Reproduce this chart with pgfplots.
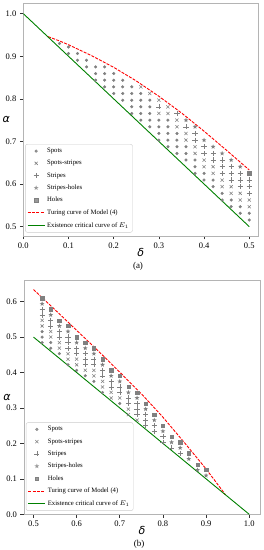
\documentclass[border=0pt]{standalone}
\usepackage{fontspec}
\setmainfont{Liberation Serif}
\newfontfamily\djv{DejaVu Sans}
\usepackage{pgfplots}
\pgfplotsset{compat=1.18}
\definecolor{axgray}{RGB}{180,180,180}
\definecolor{leggray}{RGB}{204,204,204}
\definecolor{mgray}{RGB}{128,128,128}
\definecolor{mpgreen}{RGB}{0,128,0}
\pgfdeclareplotmark{fstar}{%
  \pgfpathmoveto{\pgfpointpolar{90}{\pgfplotmarksize}}%
  \pgfpathlineto{\pgfpointpolar{126}{0.42\pgfplotmarksize}}%
  \pgfpathlineto{\pgfpointpolar{162}{\pgfplotmarksize}}%
  \pgfpathlineto{\pgfpointpolar{198}{0.42\pgfplotmarksize}}%
  \pgfpathlineto{\pgfpointpolar{234}{\pgfplotmarksize}}%
  \pgfpathlineto{\pgfpointpolar{270}{0.42\pgfplotmarksize}}%
  \pgfpathlineto{\pgfpointpolar{306}{\pgfplotmarksize}}%
  \pgfpathlineto{\pgfpointpolar{342}{0.42\pgfplotmarksize}}%
  \pgfpathlineto{\pgfpointpolar{18}{\pgfplotmarksize}}%
  \pgfpathlineto{\pgfpointpolar{54}{0.42\pgfplotmarksize}}%
  \pgfpathclose\pgfusepathqfill}
\pgfplotsset{
  mystyle/.style={
    scale only axis,
    axis line style={draw=axgray, line width=0.8pt},
    tick style={draw=black!80, line width=0.6pt},
    tick align=outside,
    major tick length=3.5pt,
    xtick pos=bottom, ytick pos=left,
    ticklabel style={font=\fontsize{8.5}{9}\selectfont},
    /pgf/number format/fixed,
    /pgf/number format/fixed zerofill,
    /pgf/number format/precision=1,
    /pgf/number format/assume math mode=true,
    xlabel={\djv\itshape δ},
    ylabel={\djv\itshape α},
    xlabel style={font=\fontsize{11}{12}\selectfont, at={(axis description cs:0.5,0)}, anchor=center, yshift=-16.5pt},
    ylabel style={font=\fontsize{11}{12}\selectfont, rotate=-90, at={(axis description cs:0,0.5)}, anchor=center, xshift=-17pt},
    legend style={font=\fontsize{6.7}{7.7}\selectfont, draw=leggray, rounded corners=2pt, fill=white, fill opacity=0.8, text opacity=1, row sep=2.3pt, inner sep=1.8pt, cells={anchor=west}},
    legend cell align=left,
  },
  spots/.style={only marks, mark=*, mark size=1.35pt, mark options={draw=mgray, fill=mgray}},
  spst/.style={only marks, mark=x, mark size=2.2pt, mark options={draw=mgray, line width=0.55pt}},
  strp/.style={only marks, mark=+, mark size=2.6pt, mark options={draw=mgray, line width=0.55pt}},
  sthl/.style={only marks, mark=fstar, mark size=2.5pt, mark options={fill=mgray}},
  holes/.style={only marks, mark=square*, mark size=1.7pt, mark options={draw=mgray, fill=mgray}},
  turing/.style={red, dashed, dash pattern=on 3pt off 1.3pt, line width=0.9pt, mark=none},
  exist/.style={mpgreen, line width=0.9pt, mark=none},
}
\begin{document}
\begin{tikzpicture}
\useasboundingbox (0,0) rectangle (264pt,550pt);
% ---------------- panel (a)
\begin{axis}[mystyle, at={(23.3pt,314pt)}, anchor=south west,
  width=235pt, height=233pt,
  xmin=0, xmax=0.52, ymin=0.478, ymax=1.025,
  xtick={0,0.1,0.2,0.3,0.4,0.5}, ytick={0.5,0.6,0.7,0.8,0.9,1.0},
  legend style={at={(0.008,0.015)}, anchor=south west}]
\addplot[spots] coordinates {
(0.08,.93)
(0.10,.90625)(0.10,.921875)
(0.12,.890625)(0.12,.90625)
(0.14,.875)(0.14,.890625)
(0.16,.84375)(0.16,.859375)(0.16,.875)
(0.18,.828125)(0.18,.84375)(0.18,.859375)(0.18,.875)
(0.20,.8125)(0.20,.828125)(0.20,.84375)(0.20,.859375)
(0.22,.796875)(0.22,.8125)(0.22,.828125)(0.22,.84375)
(0.24,.765625)(0.24,.78125)(0.24,.796875)(0.24,.8125)(0.24,.828125)
(0.26,.75)(0.26,.765625)(0.26,.78125)(0.26,.796875)(0.26,.8125)
(0.28,.734375)(0.28,.75)(0.28,.765625)(0.28,.78125)(0.28,.796875)
(0.30,.703125)(0.30,.71875)(0.30,.734375)(0.30,.75)
(0.32,.6875)(0.32,.703125)(0.32,.71875)(0.32,.734375)(0.32,.75)
(0.34,.671875)(0.34,.6875)(0.34,.703125)(0.34,.71875)
(0.36,.65625)(0.36,.671875)(0.36,.6875)
(0.38,.625)(0.38,.640625)(0.38,.65625)
(0.40,.609375)(0.40,.625)
(0.42,.59375)(0.42,.609375)
(0.44,.5625)(0.44,.578125)
(0.46,.546875)(0.46,.5625)
(0.48,.53125)(0.48,.546875)
(0.50,.515625)(0.50,.53125)
};
\addlegendentry{Spots}
\addplot[spst] coordinates {
(0.26,.828125)(0.28,.8125)(0.30,.796875)(0.30,.765625)(0.32,.78125)(0.32,.765625)
(0.34,.75)(0.34,.734375)(0.36,.71875)(0.36,.703125)(0.38,.6875)(0.38,.671875)
(0.40,.65625)(0.40,.640625)(0.42,.640625)(0.42,.625)(0.44,.609375)(0.44,.59375)
(0.46,.59375)(0.46,.578125)(0.48,.578125)(0.48,.5625)(0.50,.5625)(0.50,.546875)
};
\addlegendentry{Spots-stripes}
\addplot[strp] coordinates {
(0.30,.78125)(0.34,.765625)(0.36,.734375)(0.38,.71875)(0.38,.703125)
(0.40,.6875)(0.40,.671875)(0.42,.671875)(0.42,.65625)
(0.44,.65625)(0.44,.640625)(0.44,.625)(0.46,.640625)(0.46,.625)(0.46,.609375)
(0.48,.625)(0.48,.609375)(0.48,.59375)(0.50,.609375)(0.50,.59375)(0.50,.578125)
};
\addlegendentry{Stripes}
\addplot[sthl] coordinates {
(0.36,.75)(0.38,.734375)(0.40,.703125)(0.42,.6875)(0.44,.671875)(0.46,.65625)(0.48,.640625)
};
\addlegendentry{Stripes-holes}
\addplot[holes] coordinates {(0.50,.625)};
\addlegendentry{Holes}
\addplot[turing] coordinates {
(0.055,0.946)(0.08,0.936)(0.1,0.927)(0.15,0.902)(0.2,0.874)(0.25,0.842)
(0.3,0.806)(0.35,0.767)(0.4,0.724)(0.45,0.679)(0.5,0.633)
};
\addlegendentry{Turing curve of Model (4)}
\addplot[exist] coordinates {(0,1)(0.5,0.5)};
\addlegendentry{Existence critical curve of $E_1$}
\end{axis}
\node[font=\fontsize{9}{10}\selectfont] at (138pt,284pt) {(a)};
% ---------------- panel (b)
\begin{axis}[mystyle, at={(24pt,35.7pt)}, anchor=south west,
  width=236pt, height=234.3pt,
  xmin=0.478, xmax=1.025, ymin=0, ymax=0.661,
  xtick={0.5,0.6,0.7,0.8,0.9,1.0}, ytick={0,0.1,0.2,0.3,0.4,0.5,0.6},
  legend style={at={(0.008,0.015)}, anchor=south west}]
\addplot[spots] coordinates {
(0.52,.515625)(0.52,.5)(0.52,.484375)(0.54,.484375)(0.54,.46875)(0.56,.453125)
(0.58,.421875)(0.60,.40625)(0.62,.390625)(0.64,.375)(0.66,.34375)(0.70,.3125)
};
\addlegendentry{Spots}
\addplot[spst] coordinates {
(0.52,.546875)(0.52,.53125)(0.54,.515625)(0.54,.5)(0.56,.484375)(0.56,.46875)
(0.58,.453125)(0.58,.4375)(0.60,.4375)(0.60,.421875)(0.62,.40625)
(0.64,.40625)(0.64,.390625)(0.66,.375)(0.66,.359375)(0.68,.34375)(0.68,.328125)
(0.70,.328125)(0.72,.296875)(0.72,.28125)(0.74,.265625)
};
\addlegendentry{Spots-stripes}
\addplot[strp] coordinates {
(0.52,.578125)(0.52,.5625)(0.54,.546875)(0.54,.53125)(0.56,.515625)(0.56,.5)
(0.58,.5)(0.58,.484375)(0.58,.46875)(0.60,.46875)(0.60,.453125)
(0.62,.453125)(0.62,.4375)(0.62,.421875)(0.64,.4375)(0.64,.421875)
(0.66,.40625)(0.66,.390625)(0.68,.375)(0.68,.359375)(0.70,.359375)(0.70,.34375)
(0.72,.328125)(0.72,.3125)(0.74,.3125)(0.74,.296875)(0.74,.28125)
(0.76,.28125)(0.76,.265625)(0.76,.25)(0.78,.25)(0.78,.234375)
(0.80,.21875)(0.80,.203125)(0.82,.1875)(0.84,.171875)
};
\addlegendentry{Stripes}
\addplot[sthl] coordinates {
(0.52,.59375)(0.54,.5625)(0.56,.53125)(0.58,.515625)(0.60,.484375)(0.62,.46875)
(0.64,.453125)(0.66,.421875)(0.68,.390625)(0.70,.375)(0.72,.34375)(0.74,.328125)
(0.76,.296875)(0.78,.265625)(0.80,.234375)(0.82,.203125)(0.84,.1875)(0.86,.15625)
(0.88,.125)(0.90,.109375)
};
\addlegendentry{Stripes-holes}
\addplot[holes] coordinates {
(0.52,.609375)(0.54,.578125)(0.56,.546875)(0.58,.53125)(0.60,.5)(0.62,.484375)
(0.64,.46875)(0.66,.4375)(0.68,.40625)(0.70,.390625)(0.72,.359375)(0.74,.34375)
(0.76,.3125)(0.78,.28125)(0.80,.25)(0.82,.21875)(0.84,.203125)(0.86,.171875)
(0.88,.140625)(0.90,.125)
};
\addlegendentry{Holes}
\addplot[turing] coordinates {
(0.5,0.634)(0.55,0.577)(0.6,0.519)(0.65,0.461)(0.7,0.401)(0.75,0.340)
(0.8,0.274)(0.85,0.202)(0.9,0.128)(0.945,0.055)
};
\addlegendentry{Turing curve of Model (4)}
\addplot[exist] coordinates {(0.5,0.5)(1,0)};
\addlegendentry{Existence critical curve of $E_1$}
\end{axis}
\node[font=\fontsize{9}{10}\selectfont] at (139pt,6pt) {(b)};
\end{tikzpicture}
\end{document}
